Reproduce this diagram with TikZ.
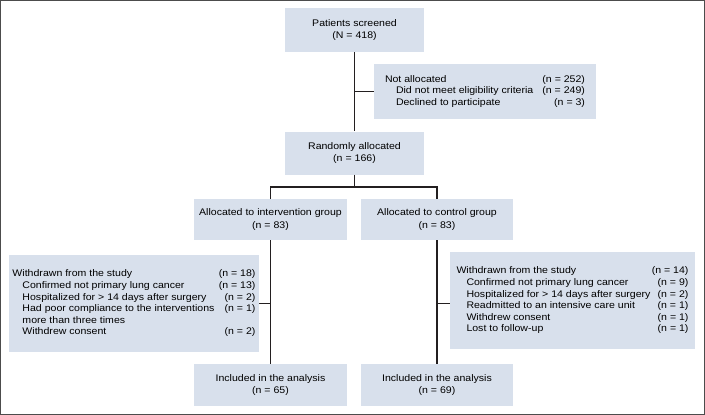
\documentclass[tikz,border=0pt]{standalone}
\usepackage{fontspec}
\setmainfont[FakeStretch=1.1]{Liberation Sans}
\definecolor{boxfill}{RGB}{216,224,236}
\definecolor{linedark}{RGB}{35,31,32}

\begin{document}
\begin{tikzpicture}[x=1pt,y=-1pt]
	\useasboundingbox (0,0) rectangle (705,415);
	\draw[black!70, line width=1pt] (0.5,0.5) rectangle (704.5,414.5);
	\begin{scope}[every node/.style={fill=boxfill,inner sep=0pt,align=center,font=\fontsize{9.6}{12.5}\selectfont}]
	\node[minimum width=139pt,minimum height=44pt] (screened) at (354.5,30) {Patients screened\\(N = 418)};
	\node[minimum width=222pt,minimum height=55pt,font=\fontsize{9.6}{11.6}\selectfont] (notalloc) at (485,91.5) {%
		\begin{tabular*}{200pt}{@{}l@{\extracolsep{\fill}}r@{}}
		Not allocated & (n = 252)\\
		\hspace{11pt}Did not meet eligibility criteria & (n = 249)\\
		\hspace{11pt}Declined to participate & (n = 3)
		\end{tabular*}};
	\node[minimum width=139pt,minimum height=43pt] (random) at (354.5,153) {Randomly allocated\\(n = 166)};
	\node[minimum width=153pt,minimum height=41pt] (int) at (270.5,219.5) {Allocated to intervention group\\(n = 83)};
	\node[minimum width=152pt,minimum height=41pt] (ctrl) at (437,219.5) {Allocated to control group\\(n = 83)};
	\node[minimum width=250pt,minimum height=97pt,font=\fontsize{9.6}{11.6}\selectfont] (wdint) at (134,303.5) {%
		\begin{tabular*}{243pt}{@{}l@{\extracolsep{\fill}}r@{}}
		Withdrawn from the study & (n = 18)\\
		\hspace{10pt}Confirmed not primary lung cancer & (n = 13)\\
		\hspace{10pt}Hospitalized for > 14 days after surgery & (n = 2)\\
		\hspace{10pt}Had poor compliance to the interventions & (n = 1)\\
		\hspace{10pt}more than three times & \\
		\hspace{10pt}Withdrew consent & (n = 2)
		\end{tabular*}};
	\node[minimum width=245pt,minimum height=97pt,font=\fontsize{9.6}{11.6}\selectfont] (wdctrl) at (572.5,300.5) {%
		\begin{tabular*}{232pt}{@{}l@{\extracolsep{\fill}}r@{}}
		Withdrawn from the study & (n = 14)\\
		\hspace{10pt}Confirmed not primary lung cancer & (n = 9)\\
		\hspace{10pt}Hospitalized for > 14 days after surgery & (n = 2)\\
		\hspace{10pt}Readmitted to an intensive care unit & (n = 1)\\
		\hspace{10pt}Withdrew consent & (n = 1)\\
		\hspace{10pt}Lost to follow-up & (n = 1)
		\end{tabular*}};
	\node[minimum width=153pt,minimum height=42pt] (incint) at (270.5,385) {Included in the analysis\\(n = 65)};
	\node[minimum width=152pt,minimum height=42pt] (incctrl) at (437,385) {Included in the analysis\\(n = 69)};
	\end{scope}
	\begin{scope}[line width=1.2pt,draw=linedark]
	\coordinate (split) at (354.5,187);
	\draw (screened) -- (random);
	\draw (notalloc.west) -- (notalloc.west -| screened.south);
	\draw (random) -- (split);
	\draw (int) |- (split) -| (ctrl);
	\draw (int) -- (incint);
	\draw (ctrl) -- (incctrl);
	\draw (wdint.east) -- (wdint.east -| int.south);
	\draw ([yshift=-3pt]wdctrl.west) -- ([yshift=-3pt]wdctrl.west -| ctrl.south);
	\end{scope}
\end{tikzpicture}
\end{document}
